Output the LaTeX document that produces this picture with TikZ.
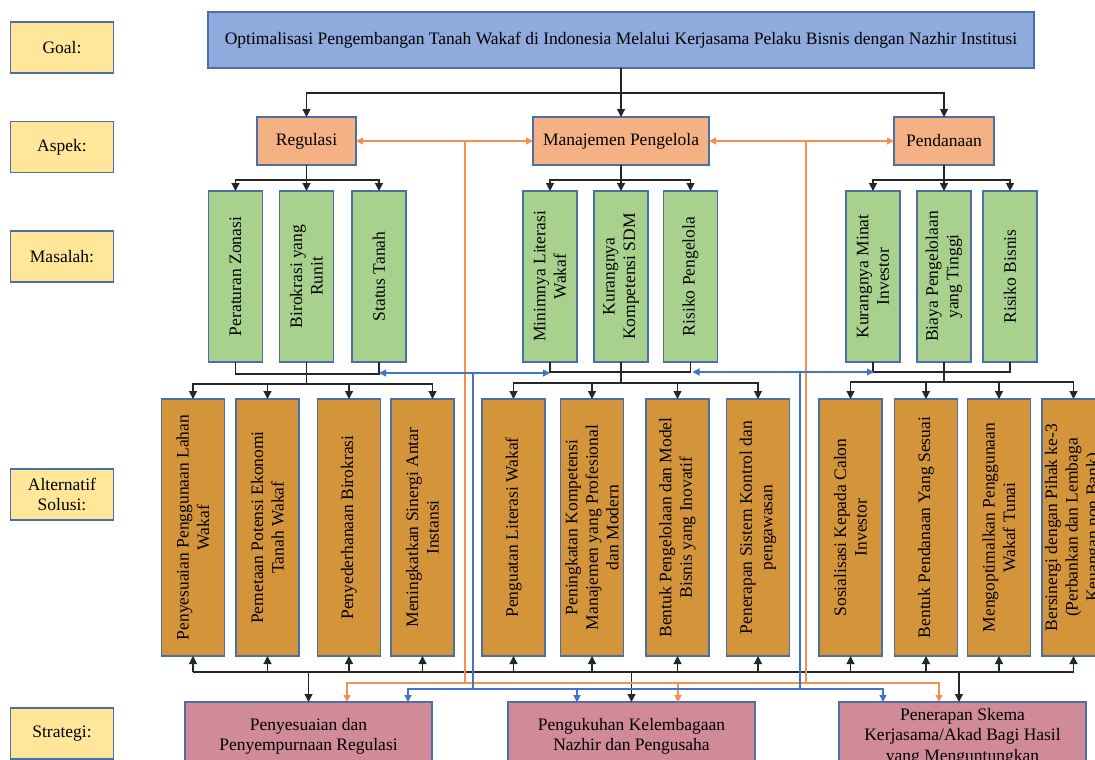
\documentclass[tikz,border=0pt]{standalone}
\usepackage{fontspec}
\setmainfont{Liberation Serif}
\usetikzlibrary{arrows.meta,calc}
\definecolor{lblfill}{HTML}{FFE699}
\definecolor{bord}{HTML}{4A6EA9}
\definecolor{titlefill}{HTML}{8FAADC}
\definecolor{aspfill}{HTML}{F4B183}
\definecolor{grnfill}{HTML}{A9D18E}
\definecolor{altfill}{HTML}{D4943A}
\definecolor{strfill}{HTML}{D08A98}
\definecolor{oline}{HTML}{F4914E}
\definecolor{bline}{HTML}{4472C4}
\tikzset{
  box/.style={draw=bord, line width=1.3pt, inner sep=0pt, outer sep=0pt},
  lbl/.style={box, fill=lblfill, minimum width=103, minimum height=51, align=center},
  asp/.style={box, fill=aspfill, minimum height=48},
  gbox/.style={box, fill=grnfill, minimum width=54, minimum height=171},
  abox/.style={box, fill=altfill, minimum width=63, minimum height=257},
  sbox/.style={box, fill=strfill, minimum width=247, minimum height=69, align=center},
  vtxt/.style={rotate=90, align=center, inner sep=0pt},
  conn/.style={line width=1.2pt, black!85},
  arr/.style={conn, -{Triangle[length=8pt,width=8pt]}},
  oln/.style={draw=oline, line width=1.4pt},
  oarr/.style={oln, -{Triangle[length=7pt,width=7pt]}},
  oarrb/.style={oln, {Triangle[length=7pt,width=7pt]}-{Triangle[length=7pt,width=7pt]}},
  bln/.style={draw=bline, line width=1.2pt},
  barr/.style={bln, -{Triangle[length=7pt,width=7pt]}},
  barrb/.style={bln, {Triangle[length=7pt,width=7pt]}-{Triangle[length=7pt,width=7pt]}},
}
\begin{document}
\begin{tikzpicture}[x=1pt, y=-1pt, font=\fontsize{17.5}{20.5}\selectfont]
\useasboundingbox (0,0) rectangle (1095,760);
\clip (0,0) rectangle (1095,760);

% left labels
\node[lbl] (Lgoal) at (62,47.5) {Goal:};
\node[lbl] (Lasp) at (62,147) {Aspek:};
\node[lbl] (Lmas) at (62,256.5) {Masalah:};
\node[lbl] (Lalt) at (62,494.5) {Alternatif\\Solusi:};
\node[lbl] (Lstr) at (62,733.5) {Strategi:};

% goal
\node[box, fill=titlefill, minimum width=826, minimum height=56] (title) at (621,40)
  {Optimalisasi Pengembangan Tanah Wakaf di Indonesia Melalui Kerjasama Pelaku Bisnis dengan Nazhir Institusi};

% aspek
\node[asp, minimum width=99] (reg) at (306.5,141) {Regulasi};
\node[asp, minimum width=176] (man) at (621,141) {Manajemen Pengelola};
\node[asp, minimum width=100] (pen) at (944,141) {Pendanaan};

% masalah
\node[gbox] (mR1) at (235.5,276.5) {};
\node[vtxt] (tR1) at (mR1) {Peraturan Zonasi};
\node[gbox] (mR2) at (306.5,276.5) {};
\node[vtxt] (tR2) at (mR2) {Birokrasi yang\\Runit};
\node[gbox] (mR3) at (379,276.5) {};
\node[vtxt] (tR3) at (mR3) {Status Tanah};
\node[gbox] (mM1) at (550,276.5) {};
\node[vtxt] (tM1) at (mM1) {Minimnya Literasi\\Wakaf};
\node[gbox] (mM2) at (621,276.5) {};
\node[vtxt] (tM2) at (mM2) {Kurangnya\\Kompetensi SDM};
\node[gbox] (mM3) at (690.5,276.5) {};
\node[vtxt] (tM3) at (mM3) {Risiko Pengelola};
\node[gbox] (mP1) at (873,276.5) {};
\node[vtxt] (tP1) at (mP1) {Kurangnya Minat\\Investor};
\node[gbox] (mP2) at (944,276.5) {};
\node[vtxt] (tP2) at (mP2) {Biaya Pengelolaan\\yang Tinggi};
\node[gbox] (mP3) at (1010,276.5) {};
\node[vtxt] (tP3) at (mP3) {Risiko Bisnis};

% alternatif solusi
\node[abox] (aR1) at (193,527.5) {};
\node[vtxt] (uR1) at (aR1) {Penyesuaian Penggunaan Lahan\\Wakaf};
\node[abox] (aR2) at (267.5,527.5) {};
\node[vtxt] (uR2) at (aR2) {Pemetaan Potensi Ekonomi\\Tanah Wakaf};
\node[abox] (aR3) at (349,527.5) {};
\node[vtxt] (uR3) at (aR3) {Penyederhanaan Birokrasi};
\node[abox] (aR4) at (422.5,527.5) {};
\node[vtxt] (uR4) at (aR4) {Meningkatkan Sinergi Antar\\Instansi};
\node[abox] (aM1) at (513.5,527.5) {};
\node[vtxt] (uM1) at (aM1) {Penguatan Literasi Wakaf};
\node[abox] (aM2) at (592,527.5) {};
\node[vtxt] (uM2) at (aM2) {Peningkatan Kompetensi\\Manajemen yang Profesional\\dan Modern};
\node[abox] (aM3) at (677.5,527.5) {};
\node[vtxt] (uM3) at (aM3) {Bentuk Pengelolaan dan Model\\Bisnis yang Inovatif};
\node[abox] (aM4) at (758,527.5) {};
\node[vtxt] (uM4) at (aM4) {Penerapan Sistem Kontrol dan\\pengawasan};
\node[abox] (aP1) at (850.5,527.5) {};
\node[vtxt] (uP1) at (aP1) {Sosialisasi Kepada Calon\\Investor};
\node[abox] (aP2) at (926,527.5) {};
\node[vtxt] (uP2) at (aP2) {Bentuk Pendanaan Yang Sesuai};
\node[abox] (aP3) at (999,527.5) {};
\node[vtxt] (uP3) at (aP3) {Mengoptimalkan Penggunaan\\Wakaf Tunai};
\node[abox] (aP4) at (1073.5,527.5) {};
\node[vtxt] (uP4) at (aP4) {Bersinergi dengan Pihak ke-3\\(Perbankan dan Lembaga\\Keuangan non Bank)};

% strategi
\node[sbox] (s1) at (308.5,736.5) {Penyesuaian dan\\Penyempurnaan Regulasi};
\node[sbox] (s2) at (631.5,736.5) {Pengukuhan Kelembagaan\\Nazhir dan Pengusaha};
\node[sbox] (s3) at (962.5,736.5) {Penerapan Skema\\Kerjasama/Akad Bagi Hasil\\yang Menguntungkan};

% goal -> aspek
\coordinate (h0) at ($(title.south)+(0,25)$);
\draw[arr] (title.south) -- (man.north);
\draw[arr] (h0) -| (reg.north);
\draw[arr] (h0) -| (pen.north);

% aspek -> masalah
\coordinate (hR) at ($(reg.south)+(0,15)$);
\draw[conn] (reg.south) -- (hR);
\draw[arr] (hR) -| (mR1.north);
\draw[arr] (hR) -- (mR2.north);
\draw[arr] (hR) -| (mR3.north);
\coordinate (hM) at ($(man.south)+(0,15)$);
\draw[conn] (man.south) -- (hM);
\draw[arr] (hM) -| (mM1.north);
\draw[arr] (hM) -- (mM2.north);
\draw[arr] (hM) -| (mM3.north);
\coordinate (hP) at ($(pen.south)+(0,15)$);
\draw[conn] (pen.south) -- (hP);
\draw[arr] (hP) -| (mP1.north);
\draw[arr] (hP) -- (mP2.north);
\draw[arr] (hP) -| (mP3.north);

% masalah -> alternatif
\draw[conn] (mR1.south) -- ++(0,12) -| (mR3.south);
\coordinate (jR) at ($(mR2.south)+(0,22)$);
\draw[conn] (mR2.south) -- (jR);
\draw[arr] (jR) -| (aR1.north);
\draw[arr] (jR) -| (aR2.north);
\draw[arr] (jR) -| (aR3.north);
\draw[arr] (jR) -| ($(aR4.north)+(10,0)$);
\draw[conn] (mM1.south) -- ++(0,10) -| (mM3.south);
\coordinate (jM) at ($(mM2.south)+(0,21)$);
\draw[conn] (mM2.south) -- (jM);
\draw[arr] (jM) -| (aM1.north);
\draw[arr] (jM) -| (aM2.north);
\draw[arr] (jM) -| (aM3.north);
\draw[arr] (jM) -| (aM4.north);
\draw[conn] (mP1.south) -- ++(0,10) -| (mP3.south);
\coordinate (jP) at ($(mP2.south)+(0,20)$);
\draw[conn] (mP2.south) -- (jP);
\draw[arr] (jP) -| (aP1.north);
\draw[arr] (jP) -| (aP2.north);
\draw[arr] (jP) -| (aP3.north);
\draw[arr] (jP) -| (aP4.north);

% alternatif -> strategi
\draw[conn] ($(aR1.south)+(0,16)$) -- ($(aP4.south)+(0,16)$);
\foreach \n in {aR1,aR2,aR3,aR4,aM1,aM2,aM3,aM4,aP1,aP2,aP3,aP4}
  \draw[arr] ($(\n.south)+(0,16)$) -- (\n.south);
\draw[arr] ($(s1.north)+(0,-30)$) -- (s1.north);
\draw[arr] ($(s2.north)+(0,-30)$) -- (s2.north);
\draw[arr] ($(s3.north)+(-3.5,-30)$) -- ($(s3.north)+(-3.5,0)$);

% orange links
\draw[oarrb] (reg.east) -- (man.west);
\draw[oarrb] (man.east) -- (pen.west);
\coordinate (o1) at (465,141);
\coordinate (o2) at (806,141);
\coordinate (o1b) at (465,683);
\coordinate (o2b) at (806,683);
\draw[oln] (o1) -- (o1b);
\draw[oln] (o2) -- (o2b);
\draw[oarr] (o1b) -| ($(s1.north)+(38.5,0)$);
\draw[oarr] (o1b) -| ($(s2.north)+(46.5,0)$);
\draw[oarr] (o2b) -| ($(s2.north)+(46.5,0)$);
\draw[oarr] (o2b) -| ($(s3.north)+(-23.5,0)$);

% blue links
\coordinate (b1) at ($(mR3.south)+(0,11)$);
\coordinate (b2) at ($(mM1.south)+(0,11)$);
\coordinate (b3) at ($(mM3.south)+(2,10)$);
\coordinate (b4) at ($(mP1.south)+(1,10)$);
\draw[barrb] (b1) -- (b2);
\draw[barrb] (b3) -- (b4);
\coordinate (c1) at (473,373);
\coordinate (c2) at (800,372);
\coordinate (c1b) at (473,689);
\coordinate (c2b) at (800,689);
\draw[bln] (c1) -- (c1b);
\draw[bln] (c2) -- (c2b);
\draw[barr] (c1b) -| ($(s1.north)+(99.5,0)$);
\draw[barr] (c1b) -| ($(s2.north)+(-54.5,0)$);
\draw[barr] (c2b) -| ($(s2.north)+(-54.5,0)$);
\draw[barr] (c2b) -| ($(s3.north)+(-79.5,0)$);
\end{tikzpicture}
\end{document}
